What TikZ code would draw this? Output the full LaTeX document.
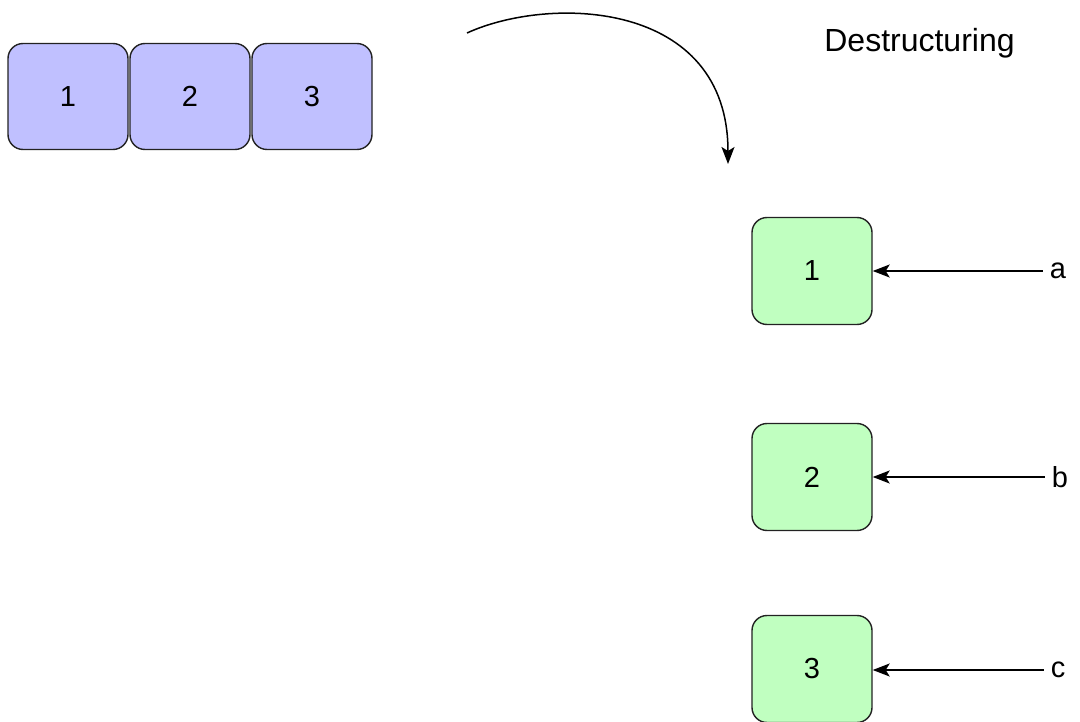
\documentclass[tikz,border=0pt]{standalone}
\usepackage{fontspec}
\setmainfont{Liberation Sans}
\usetikzlibrary{arrows.meta}
\definecolor{boxblue}{HTML}{C0C0FF}
\definecolor{boxgreen}{HTML}{C0FFC0}
\definecolor{edge}{HTML}{222222}
\tikzset{
  cell/.style={draw=edge, line width=1.4pt, rounded corners=15pt, minimum width=120pt, minimum height=106pt, inner sep=0pt, font=\fontsize{29}{35}\selectfont},
  bluecell/.style={cell, fill=boxblue},
  greencell/.style={cell, fill=boxgreen, minimum height=107pt},
  varlabel/.style={inner ysep=2pt, inner xsep=7pt, font=\fontsize{29}{35}\selectfont},
  pointer/.style={draw=black, line width=1.5pt, -{Stealth[length=17pt,width=13pt,inset=4pt]}},
}
\begin{document}
\begin{tikzpicture}[x=1pt,y=-1pt]
\useasboundingbox (0,0) rectangle (1080,722);
% source array
\node[bluecell] (b1) at (68,96.5) {1};
\node[bluecell] (b2) at (190,96.5) {2};
\node[bluecell] (b3) at (312,96.5) {3};
% title
\node[anchor=base, inner sep=0pt, font=\fontsize{32}{38}\selectfont] (title) at (919.5,52) {Destructuring};
% curved arrow
\coordinate (cstart) at (467,33);
\coordinate (cend) at (728,164);
\draw[pointer] (cstart) .. controls (550,-5) and (728,0) .. (cend);
% destructured values
\node[greencell] (g1) at (812,271) {1};
\node[greencell] (g2) at (812,477) {2};
\node[greencell] (g3) at (812,669) {3};
% variable names
\node[varlabel] (va) at (1058,271) {a};
\node[varlabel] (vb) at (1060,477) {b};
\node[varlabel] (vc) at (1058,670) {c};
\draw[pointer] (va) -- (g1);
\draw[pointer] (vb) -- (g2);
\draw[pointer] (vc) -- (vc -| g3.east);
\end{tikzpicture}
\end{document}
